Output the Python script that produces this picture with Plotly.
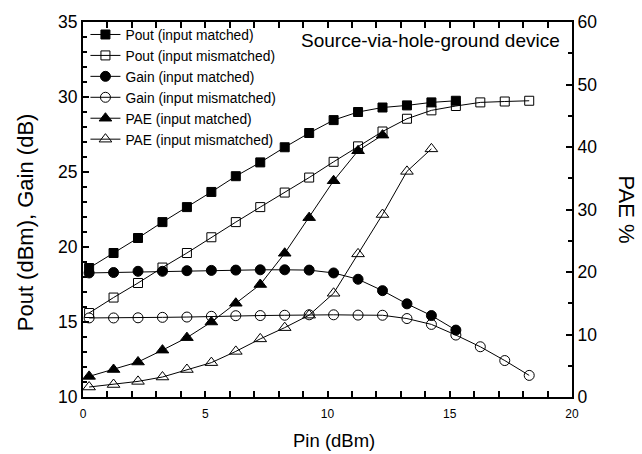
import plotly.graph_objects as go

# Input power sweep (dBm)
pin = [0.25 + k for k in range(19)]

# Output power (dBm)
pout_matched = [18.6, 19.6, 20.6, 21.66, 22.66, 23.67, 24.72, 25.64, 26.65, 27.6,
                28.46, 29.0, 29.3, 29.44, 29.64, 29.75]
pout_mismatched = [15.6, 16.63, 17.6, 18.63, 19.6, 20.65, 21.66, 22.66, 23.63, 24.63,
                   25.68, 26.71, 27.7, 28.55, 29.11, 29.4, 29.64, 29.7, 29.75]

# Gain (dB)
gain_matched = [18.27, 18.3, 18.38, 18.38, 18.42, 18.44, 18.46, 18.48, 18.48, 18.46,
                18.27, 17.85, 17.09, 16.21, 15.43, 14.46]
gain_mismatched = [15.27, 15.27, 15.28, 15.31, 15.33, 15.38, 15.42, 15.43, 15.45, 15.48,
                   15.48, 15.46, 15.45, 15.23, 14.84, 14.13, 13.35, 12.43, 11.44]

# Power-added efficiency (%)
pae_matched = [3.3, 4.4, 5.6, 7.5, 9.5, 12.0, 15.0, 18.0, 23.0, 28.7, 34.6, 39.4, 41.9]
pae_mismatched = [1.6, 2.0, 2.5, 3.2, 4.4, 5.5, 7.3, 9.3, 11.1, 13.1, 16.6, 22.9, 29.2,
                  36.1, 39.7]

FONT = "Liberation Sans, Arial, sans-serif"
LINE = dict(color="black", width=1)

series = [
    ("Pout (input matched)", pout_matched, "square", 9, "y"),
    ("Pout (input mismatched)", pout_mismatched, "square-open", 9, "y"),
    ("Gain (input matched)", gain_matched, "circle", 10, "y"),
    ("Gain (input mismatched)", gain_mismatched, "circle-open", 10, "y"),
    ("PAE (input matched)", pae_matched, "triangle-up", 11, "y2"),
    ("PAE (input mismatched)", pae_mismatched, "triangle-up-open", 11, "y2"),
]

fig = go.Figure()
for name, vals, sym, size, ax in series:
    fig.add_trace(go.Scatter(
        x=pin[:len(vals)], y=vals, name=name, yaxis=ax,
        mode="lines+markers", line=LINE,
        marker=dict(symbol=sym, size=size, color="black",
                    line=dict(color="black", width=1)),
    ))

TICK = dict(ticks="inside", tickwidth=2, tickcolor="black", showgrid=False,
            zeroline=False, showline=True, linecolor="black", linewidth=2)

fig.update_layout(
    width=642, height=454,
    margin=dict(l=83, r=70, t=15, b=57),
    paper_bgcolor="white", plot_bgcolor="white",
    font=dict(family=FONT, color="black"),
    showlegend=True,
    legend=dict(x=0.005, y=1.008, xanchor="left", yanchor="top",
                bgcolor="rgba(0,0,0,0)", font=dict(size=13.8, family=FONT),
                itemwidth=30, tracegroupgap=0),
    xaxis=dict(
        range=[0, 20], dtick=5, tick0=0, mirror="allticks", ticklen=6,
        minor=dict(dtick=1, ticks="inside", ticklen=4, tickwidth=2, tickcolor="black"),
        tickfont=dict(size=12), ticklabelstandoff=5, **TICK,
    ),
    yaxis=dict(
        range=[10, 35], dtick=5, ticklen=6,
        minor=dict(dtick=1, ticks="inside", ticklen=4, tickwidth=2, tickcolor="black"),
        tickfont=dict(size=17.5), **TICK,
    ),
    yaxis2=dict(
        range=[0, 60], dtick=10, overlaying="y", side="right", ticklen=6,
        minor=dict(dtick=5, ticks="inside", ticklen=4, tickwidth=2, tickcolor="black"),
        tickfont=dict(size=17.5), **TICK,
    ),
    annotations=[
        dict(text="Source-via-hole-ground device", x=0.98, y=0.951, xref="paper",
             yref="paper", xanchor="right", yanchor="middle", showarrow=False,
             font=dict(size=19, family=FONT)),
        dict(text="Pin (dBm)", x=0.5, xshift=6, y=0, yshift=-43, xref="paper",
             yref="paper", xanchor="center", yanchor="middle", showarrow=False,
             font=dict(size=18.5, family=FONT)),
        dict(text="Pout (dBm), Gain (dB)", x=0, xshift=-58, y=0.466, xref="paper",
             yref="paper", xanchor="center", yanchor="middle", textangle=-90,
             showarrow=False, font=dict(size=22, family=FONT)),
        dict(text="PAE %", x=1.0, xshift=54, y=0.5, xref="paper", yref="paper",
             xanchor="center", yanchor="middle", textangle=90, showarrow=False,
             font=dict(size=22, family=FONT)),
    ],
)

fig.write_html("out.html")
